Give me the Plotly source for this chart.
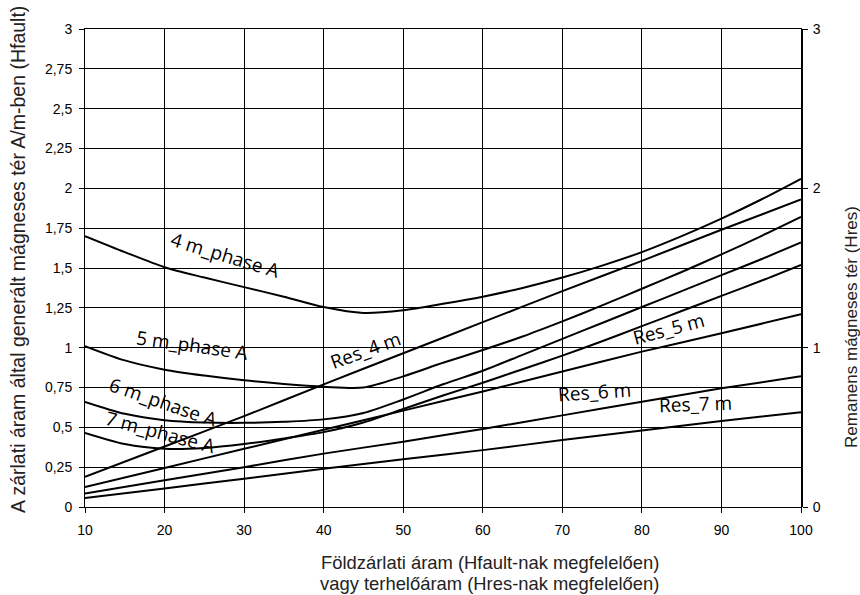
import plotly.graph_objects as go

# ---- data ----
x_phase = [10, 15, 20, 25, 30, 35, 40, 45, 50, 55, 60, 65, 70, 75, 80, 85, 90, 95, 100]
phase_4m = [1.70, 1.60, 1.505, 1.44, 1.38, 1.32, 1.255, 1.218, 1.235, 1.275, 1.32, 1.375, 1.44, 1.515, 1.60, 1.70, 1.81, 1.93, 2.06]
phase_5m = [1.01, 0.92, 0.862, 0.825, 0.795, 0.772, 0.755, 0.75, 0.82, 0.905, 0.985, 1.07, 1.165, 1.265, 1.37, 1.475, 1.585, 1.70, 1.82]
phase_6m = [0.66, 0.585, 0.545, 0.53, 0.528, 0.535, 0.55, 0.59, 0.675, 0.77, 0.855, 0.955, 1.055, 1.155, 1.255, 1.355, 1.455, 1.555, 1.66]
phase_7m = [0.465, 0.395, 0.365, 0.37, 0.395, 0.43, 0.47, 0.53, 0.615, 0.70, 0.78, 0.865, 0.95, 1.04, 1.135, 1.23, 1.325, 1.42, 1.52]

x_res = [10, 20, 30, 40, 50, 60, 70, 80, 90, 100]
res_4m = [0.19, 0.38, 0.57, 0.77, 0.965, 1.16, 1.355, 1.545, 1.74, 1.93]
res_5m = [0.125, 0.245, 0.365, 0.485, 0.605, 0.725, 0.85, 0.975, 1.09, 1.21]
res_6m = [0.084, 0.168, 0.25, 0.335, 0.41, 0.49, 0.575, 0.66, 0.745, 0.82]
res_7m = [0.057, 0.116, 0.178, 0.24, 0.30, 0.357, 0.42, 0.48, 0.54, 0.595]

y_left_ticks = [0, 0.25, 0.5, 0.75, 1, 1.25, 1.5, 1.75, 2, 2.25, 2.5, 2.75, 3]
y_left_labels = ["0", "0,25", "0,5", "0,75", "1", "1,25", "1,5", "1,75", "2", "2,25", "2,5", "2,75", "3"]
y_right_ticks = [0, 1, 2, 3]
x_ticks = [10, 20, 30, 40, 50, 60, 70, 80, 90, 100]

# curve labels: (text, x, y, angle)
labels = [
    ("4 m_phase A", 27.6, 1.58, 17),
    ("5 m_phase A", 23.4, 1.015, 8),
    ("6 m_phase A", 19.8, 0.657, 19),
    ("7 m_phase A", 19.4, 0.468, 15),
    ("Res_4 m", 45.3, 0.985, -20),
    ("Res_5 m", 83.3, 1.12, -15),
    ("Res_6 m", 74.1, 0.72, -4),
    ("Res_7 m", 86.7, 0.645, -2),
]

fig = go.Figure()
for name, ys in [("4 m_phase A", phase_4m), ("5 m_phase A", phase_5m),
                 ("6 m_phase A", phase_6m), ("7 m_phase A", phase_7m)]:
    fig.add_trace(go.Scatter(x=x_phase, y=ys, mode="lines", name=name,
                             line=dict(color="black", width=2, shape="spline", smoothing=0.8)))
for name, ys in [("Res_4 m", res_4m), ("Res_5 m", res_5m), ("Res_6 m", res_6m), ("Res_7 m", res_7m)]:
    fig.add_trace(go.Scatter(x=x_res, y=ys, mode="lines", name=name, yaxis="y2",
                             line=dict(color="black", width=2, shape="spline", smoothing=0.6)))

for text, lx, ly, ang in labels:
    fig.add_annotation(x=lx, y=ly, xref="x", yref="y", text=text, showarrow=False,
                       xanchor="center", yanchor="middle",
                       textangle=ang, font=dict(family="Open Sans", size=19, color="black"))

title_font = dict(family="Liberation Sans, Arial", color="#222222")
fig.add_annotation(x=-0.0936, y=0.519, xref="paper", yref="paper", showarrow=False,
                   xanchor="center", yanchor="middle",
                   text="A zárlati áram által generált mágneses tér A/m-ben (Hfault)",
                   textangle=-90, font=dict(size=19.5, **title_font))
fig.add_annotation(x=1.0712, y=0.3766, xref="paper", yref="paper", showarrow=False,
                   xanchor="center", yanchor="middle",
                   text="Remanens mágneses tér (Hres)",
                   textangle=-90, font=dict(size=17, **title_font))
fig.add_annotation(x=0.5656, y=-0.117, xref="paper", yref="paper", showarrow=False,
                   text="Földzárlati áram (Hfault-nak megfelelően)", xanchor="center", yanchor="middle",
                   font=dict(size=18.4, **title_font))
fig.add_annotation(x=0.5656, y=-0.159, xref="paper", yref="paper", showarrow=False,
                   text="vagy terhelőáram (Hres-nak megfelelően)", xanchor="center", yanchor="middle",
                   font=dict(size=18.4, **title_font))

tick_font = dict(family="Liberation Sans, Arial", size=14, color="black")
fig.update_layout(
    width=860, height=595,
    margin=dict(l=85, r=59, t=29, b=88),
    paper_bgcolor="white", plot_bgcolor="white",
    showlegend=False,
    xaxis=dict(range=[10, 100], tickvals=x_ticks, showgrid=True, gridcolor="black", gridwidth=1,
               ticks="outside", ticklen=5, tickcolor="black", tickfont=tick_font, ticklabelstandoff=5,
               showline=True, linecolor="black", linewidth=1, mirror=True, zeroline=False),
    yaxis=dict(range=[0, 3], tickvals=y_left_ticks, ticktext=y_left_labels, showgrid=True,
               gridcolor="black", gridwidth=1, ticks="outside", ticklen=5, tickcolor="black",
               tickfont=tick_font, ticklabelstandoff=4, showline=True, linecolor="black", linewidth=1,
               mirror=True, zeroline=False),
    yaxis2=dict(range=[0, 3], tickvals=y_right_ticks, overlaying="y", side="right", showgrid=False,
                ticks="outside", ticklen=5, tickcolor="black", tickfont=tick_font, ticklabelstandoff=2,
                showline=True, linecolor="black", linewidth=2, zeroline=False),
)

fig.write_html("out.html")
